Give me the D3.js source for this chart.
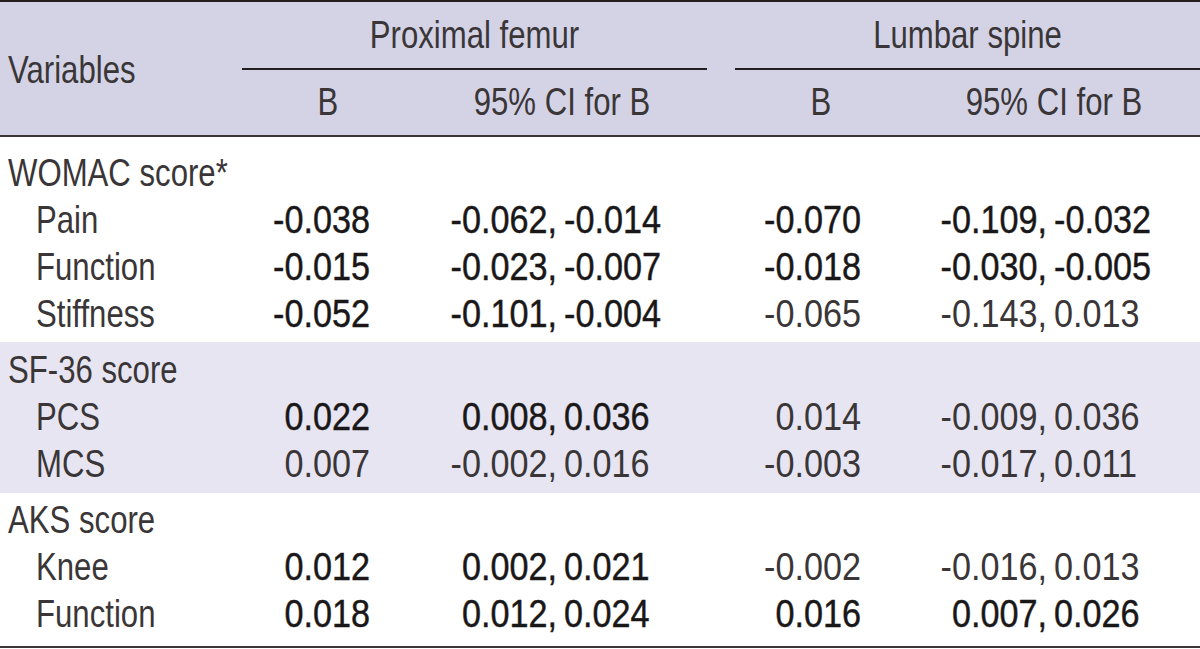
<!DOCTYPE html>
<html><head><meta charset="utf-8">
<script src="https://cdn.jsdelivr.net/npm/d3@7"></script>
<style>
html,body{margin:0;padding:0;background:#fff;}
svg text{font-family:"Liberation Sans Narrow","Liberation Sans",Arial,sans-serif;}
</style></head>
<body><svg id="c" width="1200" height="649"></svg>
<script>
// ---- data ----
const rowLabels = ["WOMAC score*", "Pain", "Function", "Stiffness", "SF-36 score", "PCS", "MCS", "AKS score", "Knee", "Function"];
const rowGroup  = [0, 0, 0, 0, 1, 1, 1, 2, 2, 2];
const rowIsGroup = [true, false, false, false, true, false, false, true, false, false];
const femurB   = ["", "-0.038", "-0.015", "-0.052", "", "0.022", "0.007", "", "0.012", "0.018"];
const femurLo  = ["", "-0.062", "-0.023", "-0.101", "", "0.008", "-0.002", "", "0.002", "0.012"];
const femurHi  = ["", "-0.014", "-0.007", "-0.004", "", "0.036", "0.016", "", "0.021", "0.024"];
const femurBold = [false, true, true, true, false, true, false, false, true, true];
const spineB   = ["", "-0.070", "-0.018", "-0.065", "", "0.014", "-0.003", "", "-0.002", "0.016"];
const spineLo  = ["", "-0.109", "-0.030", "-0.143", "", "-0.009", "-0.017", "", "-0.016", "0.007"];
const spineHi  = ["", "-0.032", "-0.005", "0.013", "", "0.036", "0.011", "", "0.013", "0.026"];
const spineBold = [false, true, true, false, false, false, false, false, false, true];
const headerTop = ["Proximal femur", "Lumbar spine"];
const headerSub = ["B", "95% CI for B"];
const stubHeader = "Variables";
const shadedGroup = 1; // SF-36 block shaded

// ---- layout ----
const W = 1200;
const svg = d3.select("#c");
const fs = 38;
const SX_TXT = 0.82, SX_NUM = 0.9;
const rowScale = d3.scaleLinear().domain([0, 1]).range([173, 220]);
const groupGap = 9;
const y = i => rowScale(i) + rowGroup[i] * groupGap;

// bands
svg.append("rect").attr("x",0).attr("y",0).attr("width",W).attr("height",137).attr("fill","#d4d3e6");
const shadedRows = d3.range(rowLabels.length).filter(i => rowGroup[i] === shadedGroup);
const bandTop = y(d3.min(shadedRows)) - 28, bandBot = y(d3.max(shadedRows)) + 29;
svg.append("rect").attr("x",0).attr("y",bandTop).attr("width",W).attr("height",bandBot - bandTop).attr("fill","#e6e5f1");

// rules
svg.append("rect").attr("x",0).attr("y",0).attr("width",W).attr("height",2).attr("fill","#231f20");
svg.append("rect").attr("x",0).attr("y",135).attr("width",W).attr("height",2).attr("fill","#3a3536");
svg.append("rect").attr("x",0).attr("y",646).attr("width",W).attr("height",2).attr("fill","#3a3536");
svg.append("rect").attr("x",242).attr("y",68).attr("width",707-242).attr("height",2).attr("fill","#231f20");
svg.append("rect").attr("x",735).attr("y",68).attr("width",W-735).attr("height",2).attr("fill","#231f20");

function txt(x, yy, s, anchor, bold, sx){
  svg.append("g").attr("transform", `translate(${x},${yy}) scale(${sx},1)`)
    .append("text").attr("x",0).attr("y",0).attr("text-anchor",anchor)
    .attr("dominant-baseline","central").attr("font-size",fs)
    .attr("stroke", bold ? "#1a1718" : "none").attr("stroke-width", bold ? 0.45 : 0)
    .attr("fill", bold ? "#1a1718" : "#3a3637")
    .text(s);
}
// header
txt(8, 70, stubHeader, "start", false, SX_TXT);
txt((242+707)/2, 35, headerTop[0], "middle", false, SX_TXT);
txt((735+1200)/2, 35, headerTop[1], "middle", false, SX_TXT);
txt(328, 102, headerSub[0], "middle", false, SX_TXT);
txt(562, 102, headerSub[1], "middle", false, SX_TXT);
txt(821, 102, headerSub[0], "middle", false, SX_TXT);
txt(1054, 102, headerSub[1], "middle", false, SX_TXT);

// column anchors
const col = {fB: 370, fComma: 557, fHi: 564, sB: 861, sComma: 1047, sHi: 1054};

rowLabels.forEach((lab, i) => {
  const yy = y(i);
  txt(rowIsGroup[i] ? 8 : 36, yy, lab, "start", false, SX_TXT);
  if (femurB[i]) txt(col.fB, yy, femurB[i], "end", femurBold[i], SX_NUM);
  if (femurLo[i]) {
    txt(col.fComma, yy, femurLo[i] + ",", "end", femurBold[i], SX_NUM);
    txt(col.fHi, yy, femurHi[i], "start", femurBold[i], SX_NUM);
  }
  if (spineB[i]) txt(col.sB, yy, spineB[i], "end", spineBold[i], SX_NUM);
  if (spineLo[i]) {
    txt(col.sComma, yy, spineLo[i] + ",", "end", spineBold[i], SX_NUM);
    txt(col.sHi, yy, spineHi[i], "start", spineBold[i], SX_NUM);
  }
});
</script></body></html>
